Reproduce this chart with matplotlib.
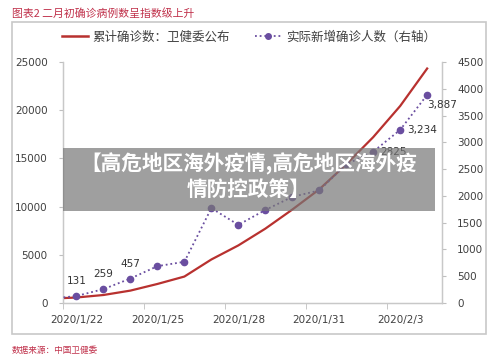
import matplotlib.pyplot as plt
from matplotlib.patches import Rectangle
from matplotlib.lines import Line2D

plt.rcParams['font.family'] = ['Noto Sans CJK SC', 'DejaVu Sans']

# 2020/1/21 .. 2020/2/4
dates = ['2020/1/21', '2020/1/22', '2020/1/23', '2020/1/24', '2020/1/25',
         '2020/1/26', '2020/1/27', '2020/1/28', '2020/1/29', '2020/1/30',
         '2020/1/31', '2020/2/1', '2020/2/2', '2020/2/3', '2020/2/4']
cumulative = [440, 571, 830, 1287, 1975, 2744, 4515, 5974, 7711, 9692,
              11791, 14380, 17205, 20438, 24324]
new_cases = [77, 131, 259, 457, 688, 769, 1771, 1459, 1737, 1982,
             2102, 2590, 2825, 3234, 3887]
# which points carry a value label, and the text shown
point_labels = {1: '131', 2: '259', 3: '457', 12: '2825', 13: '3,234', 14: '3,887'}
shown_dates = [1, 4, 7, 10, 13]

red = '#b8312f'
purple = '#6a4ea0'
grey_txt = '#404040'
title_col = '#c0304a'

fig = plt.figure(figsize=(5, 3.59), dpi=100)
fig.patch.set_facecolor('white')

# outer chart box
fig.patches.append(Rectangle((12 / 500, 1 - 334 / 359), 474 / 500, 312 / 359,
                             transform=fig.transFigure, fill=False,
                             edgecolor='#c8c8c8', lw=1.2))

ax = fig.add_axes([63 / 500, 56 / 359, 379 / 500, 241 / 359])
ax2 = ax.twinx()

x = list(range(len(dates)))
ax.plot(x, cumulative, color=red, lw=1.6, zorder=3)
ax2.plot(x, new_cases, color=purple, lw=1.3, ls=(0, (1, 1.6)),
         marker='o', ms=4.5, mfc=purple, mec=purple, zorder=3)

ax.set_xlim(0.5, 14.55)
ax.set_ylim(0, 25000)
ax2.set_ylim(0, 4500)
ax.set_yticks(range(0, 25001, 5000))
ax2.set_yticks(range(0, 4501, 500))

ax.set_xticks(shown_dates)
ax.set_xticklabels([dates[i] for i in shown_dates])
ax.set_xticks([i - 0.5 for i in shown_dates], minor=True)
ax.tick_params(axis='x', which='major', length=0, pad=9, labelsize=7.5,
               labelcolor=grey_txt)
ax.tick_params(axis='x', which='minor', length=4, color='#bfbfbf')
ax.tick_params(axis='y', length=3, color='#bfbfbf', labelsize=7.5,
               labelcolor=grey_txt, pad=8)
ax2.tick_params(axis='y', length=3, color='#bfbfbf', labelsize=7.5,
                labelcolor=grey_txt, pad=8)

for a in (ax, ax2):
    a.spines['top'].set_visible(False)
    for s in ('left', 'right', 'bottom'):
        a.spines[s].set_color('#c8c8c8')
        a.spines[s].set_linewidth(0.9)
    for lab in a.get_xticklabels() + a.get_yticklabels():
        lab.set_family('DejaVu Sans')

offsets = {1: (0, 7, 'center', 'bottom'), 2: (0, 7, 'center', 'bottom'),
           3: (0, 7, 'center', 'bottom'), 12: (5, 0, 'left', 'center'),
           13: (5, 0, 'left', 'center'), 14: (0, -4, 'left', 'top')}
for i, txt in point_labels.items():
    dx, dy, ha, va = offsets[i]
    ax2.annotate(txt, (x[i], new_cases[i]), xytext=(dx, dy),
                 textcoords='offset points', ha=ha, va=va, fontsize=7.5,
                 color='#333333', family='DejaVu Sans', zorder=4)

# legend
handles = [Line2D([], [], color=red, lw=1.8),
           Line2D([], [], color=purple, lw=1.3, ls=(0, (1, 1.6)),
                  marker='o', ms=4, mfc=purple, mec=purple)]
fig.legend(handles, ['累计确诊数：卫健委公布', '实际新增确诊人数（右轴）'],
           loc='center', bbox_to_anchor=(249 / 500, 1 - 37 / 359), ncol=2,
           frameon=False, handlelength=2.1, handletextpad=0.4,
           columnspacing=2.0,
           prop={'family': 'Noto Sans CJK SC', 'size': 9},
           labelcolor=grey_txt)

fig.text(12 / 500, 1 - 13 / 359, '图表2 二月初确诊病例数呈指数级上升',
         color=title_col, fontsize=7.8, ha='left', va='center')
fig.text(12 / 500, 1 - 350 / 359, '数据来源：中国卫健委',
         color=title_col, fontsize=6.2, ha='left', va='center')

# grey banner over the chart
fig.patches.append(Rectangle((63 / 500, 1 - 211 / 359), 372 / 500, 63 / 359,
                             transform=fig.transFigure, facecolor='#777777',
                             alpha=0.7, edgecolor='none', zorder=10))
fig.text(249 / 500, 1 - 164 / 359, '【高危地区海外疫情,高危地区海外疫',
         color='white', fontsize=14.9, fontweight='bold', ha='center',
         va='center', zorder=11)
fig.text(249 / 500, 1 - 189 / 359, '情防控政策】',
         color='white', fontsize=14.9, fontweight='bold', ha='center',
         va='center', zorder=11)

fig.savefig('out.png', dpi=100)
